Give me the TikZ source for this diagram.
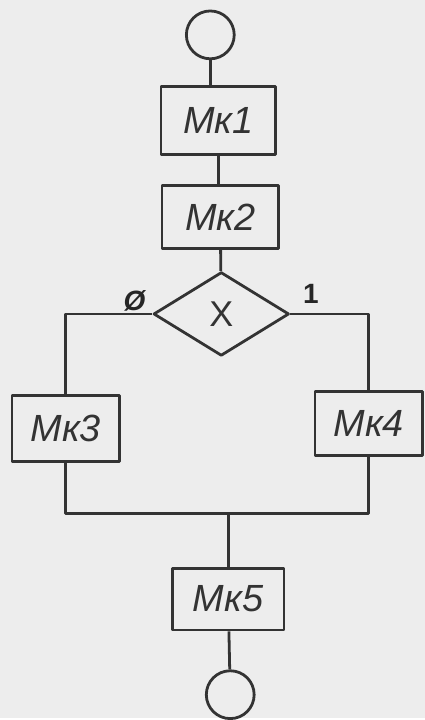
\documentclass[tikz,border=0pt]{standalone}
\usepackage{fontspec}
\setmainfont{Liberation Sans}
\usetikzlibrary{shapes.geometric}

\begin{document}
\begin{tikzpicture}[
    x=1pt,
    y=-1pt,
    line width=2.8pt,
    line join=round,
    mkbox/.style={draw=black!80, rectangle, inner sep=0pt,
        font=\fontsize{38pt}{40pt}\selectfont\itshape, text=black!80},
    term/.style={draw=black!80, circle, minimum size=48pt, inner sep=0pt},
    branch/.style={font=\fontsize{28pt}{30pt}\selectfont\bfseries, text=black!85}
]

% 1. Paper background (fixes the bounding box)
\fill[black!7] (0,0) rectangle (426,720);

% 2. Terminals
\node[term] (start) at (211,35) {};
\node[term] (stop) at (231,697) {};

% 3. Operation boxes
\node[mkbox, minimum width=115pt, minimum height=68pt] (mk1) at (219,121) {Мк1};
\node[mkbox, minimum width=117pt, minimum height=63pt] (mk2) at (221,218) {Мк2};
\node[mkbox, minimum width=108pt, minimum height=66pt] (mk3) at (66,430) {Мк3};
\node[mkbox, minimum width=108pt, minimum height=64pt] (mk4) at (370,425) {Мк4};
\node[mkbox, minimum width=112pt, minimum height=62pt] (mk5) at (229,601) {Мк5};

% 4. Condition
\node[draw=black!80, diamond, minimum width=136pt, minimum height=84pt, inner sep=0pt,
    font=\fontsize{36pt}{38pt}\selectfont, text=black!80] (cond) at (222,315) {X};

% 5. Branch labels
\node[branch] (lbl0) at (135,302) {\itshape Ø};
\node[branch] (lbl1) at (312,295) {1};

% 6. Connectors
\coordinate (join) at (229,515);
\draw[black!80] (start) -- (start |- mk1.north);
\draw[black!80] (mk1) -- (mk1 |- mk2.north);
\draw[black!80] (mk2) -- (cond);
\draw[black!80] (cond.west) -| (mk3);
\draw[black!80] (cond.east) -| (mk4);
\draw[black!80] (mk3) |- (join) -| (mk4);
\draw[black!80] (join) -- (mk5);
\draw[black!80] (mk5) -- (stop);

\end{tikzpicture}
\end{document}
